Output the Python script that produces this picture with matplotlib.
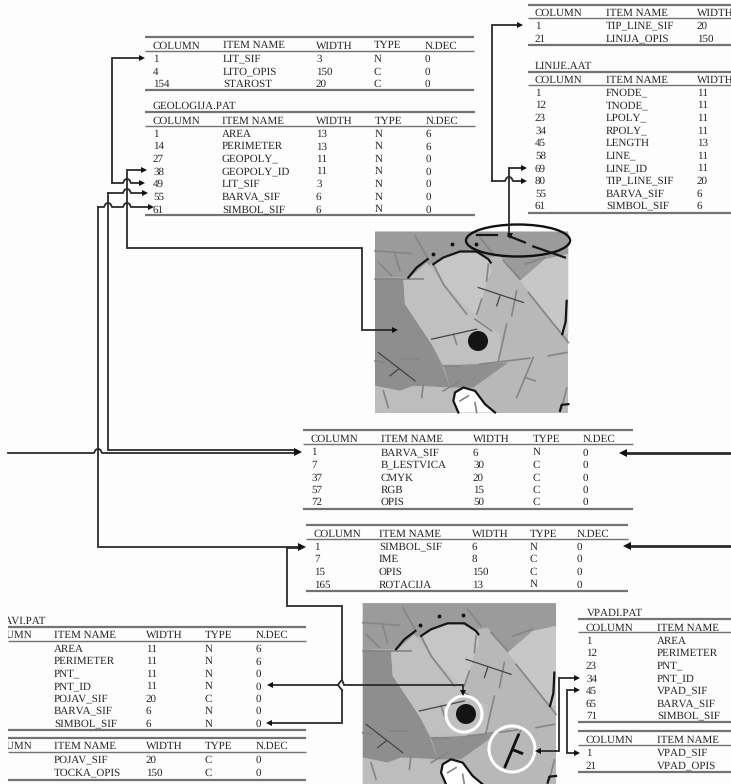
import matplotlib
matplotlib.use("Agg")
import matplotlib.pyplot as plt
from matplotlib.patches import Polygon, Circle, Ellipse, Rectangle

W, H = 731, 784
HEAD5 = ["COLUMN", "ITEM NAME", "WIDTH", "TYPE", "N.DEC"]

LITO_ROWS = [["1", "LIT_SIF", "3", "N", "0"], ["4", "LITO_OPIS", "150", "C", "0"], ["154", "STAROST", "20", "C", "0"]]
GEO_ROWS = [["1", "AREA", "13", "N", "6"], ["14", "PERIMETER", "13", "N", "6"], ["27", "GEOPOLY_", "11", "N", "0"],
            ["38", "GEOPOLY_ID", "11", "N", "0"], ["49", "LIT_SIF", "3", "N", "0"], ["55", "BARVA_SIF", "6", "N", "0"],
            ["61", "SIMBOL_SIF", "6", "N", "0"]]
TIP_ROWS = [["1", "TIP_LINE_SIF", "20"], ["21", "LINIJA_OPIS", "150"]]
LIN_ROWS = [["1", "FNODE_", "11"], ["12", "TNODE_", "11"], ["23", "LPOLY_", "11"], ["34", "RPOLY_", "11"],
            ["45", "LENGTH", "13"], ["58", "LINE_", "11"], ["69", "LINE_ID", "11"], ["80", "TIP_LINE_SIF", "20"],
            ["55", "BARVA_SIF", "6"], ["61", "SIMBOL_SIF", "6"]]
BARVA_ROWS = [["1", "BARVA_SIF", "6", "N", "0"], ["7", "B_LESTVICA", "30", "C", "0"], ["37", "CMYK", "20", "C", "0"],
              ["57", "RGB", "15", "C", "0"], ["72", "OPIS", "50", "C", "0"]]
SIMBOL_ROWS = [["1", "SIMBOL_SIF", "6", "N", "0"], ["7", "IME", "8", "C", "0"], ["15", "OPIS", "150", "C", "0"],
               ["165", "ROTACIJA", "13", "N", "0"]]
POJ_ROWS = [["", "AREA", "11", "N", "6"], ["", "PERIMETER", "11", "N", "6"], ["", "PNT_", "11", "N", "0"],
            ["", "PNT_ID", "11", "N", "0"], ["", "POJAV_SIF", "20", "C", "0"], ["", "BARVA_SIF", "6", "N", "0"],
            ["", "SIMBOL_SIF", "6", "N", "0"]]
TOCKA_ROWS = [["", "POJAV_SIF", "20", "C", "0"], ["", "TOCKA_OPIS", "150", "C", "0"]]
VPAD_ROWS = [["1", "AREA"], ["12", "PERIMETER"], ["23", "PNT_"], ["34", "PNT_ID"], ["45", "VPAD_SIF"],
             ["65", "BARVA_SIF"], ["71", "SIMBOL_SIF"]]
VPAD2_ROWS = [["1", "VPAD_SIF"], ["21", "VPAD_OPIS"]]

plt.rcParams["font.family"] = ["Liberation Serif", "DejaVu Serif"]
plt.rcParams["text.hinting"] = "no_hinting"
plt.rcParams["text.hinting_factor"] = 1
fig = plt.figure(figsize=(W / 100, H / 100), dpi=100, facecolor="#fdfdfd")
ax = fig.add_axes([0, 0, 1, 1])
ax.set_xlim(0, W)
ax.set_ylim(H, 0)
ax.axis("off")

TXT = "#262626"
RULE = "#737373"
LINE = "#2b2b2b"
FS = 8.1
BASE_OFF = 3.9


def label(x, y, s):
    ax.text(x, y + BASE_OFF, s, fontsize=FS, color=TXT, va="baseline", ha="left", zorder=3)


def table(cols, x0, x1, top, head_y, rule_y, row_ys, bottom, rows, headers=HEAD5, title=None, title_y=None, title_x=None):
    for y, lw in ((top, 1.6), (rule_y, 1.0), (bottom, 1.6)):
        ax.plot([x0, x1], [y, y], color=RULE, lw=lw, solid_capstyle="butt", zorder=2)
    if title:
        label(title_x, title_y, title)
    for x, h in zip(cols, headers):
        label(x, head_y, h)
    for y, r in zip(row_ys, rows):
        for x, v in zip(cols, r):
            label(x, y, v)


table([153, 223, 316, 374, 425], 145, 474, 37, 44.5, 51, [58, 71, 83], 90, LITO_ROWS)
table([153, 222, 316, 375, 426], 145, 475, 112, 120, 126, [133, 145.5, 158, 170.5, 183, 196, 208.5], 215, GEO_ROWS,
      title="GEOLOGIJA.PAT", title_y=105, title_x=153)
table([535, 606, 697], 528, 731, 4.5, 12, 17.5, [25, 38], 45, TIP_ROWS, headers=["COLUMN", "ITEM NAME", "WIDTH"])
table([535, 606, 697], 528, 731, 71.5, 79, 85, [92, 104.5, 117, 130, 142, 155, 167.5, 180, 193, 205], 213, LIN_ROWS,
      headers=["COLUMN", "ITEM NAME", "WIDTH"], title="LINIJE.AAT", title_y=65, title_x=535)
table([311, 381, 473, 533, 583], 303, 633, 430, 438, 444, [451.5, 464, 476.5, 488.5, 501], 509, BARVA_ROWS)
table([314, 379, 472, 530, 577], 306, 628, 525, 533, 538.5, [546, 558, 571, 583.5], 591, SIMBOL_ROWS)
table([-15, 54, 146, 205, 256], 8, 306, 626.5, 634, 640.5, [648, 660.5, 673, 685.5, 698, 710, 723], 730, POJ_ROWS,
      title="POJAVI.PAT", title_y=619.5, title_x=-13)
table([-15, 54, 146, 205, 256], 8, 306, 738, 745, 752, [759, 772], 780, TOCKA_ROWS)
table([586, 657], 578, 731, 619, 627, 632, [640, 652, 665, 678, 690, 703, 715], 722, VPAD_ROWS,
      headers=["COLUMN", "ITEM NAME"], title="VPADI.PAT", title_y=612, title_x=587)
table([586, 657], 578, 731, 731, 739, 745, [752, 765], 772, VPAD2_ROWS, headers=["COLUMN", "ITEM NAME"])
ax.add_patch(Rectangle((0, 600), 8, 184, fc="#fdfdfd", ec="none", zorder=4))

# map regions, in map coordinates (3 units per pixel)
MAP_W, MAP_H = 580, 543
BASE = "#b8b8b8"
REGIONS = [
    ("#9b9b9b", [(0, 0), (580, 0), (580, 68), (510, 83), (435, 148), (375, 73), (345, 78), (285, 58), (225, 68), (175, 93), (105, 138), (0, 138)]),
    ("#8e8e8e", [(0, 138), (85, 143), (90, 218), (170, 338), (200, 398), (225, 468), (115, 463), (75, 478), (0, 463)]),
    ("#c6c6c6", [(175, 98), (225, 68), (285, 58), (340, 83), (350, 118), (335, 153), (305, 258), (215, 168)]),
    ("#c0c0c0", [(105, 138), (155, 93), (215, 168), (305, 258), (375, 308), (375, 393), (205, 398), (170, 338), (90, 218), (85, 143)]),
    ("#c7c7c7", [(435, 148), (510, 83), (580, 68), (580, 308), (565, 308)]),
    ("#8f8f8f", [(205, 403), (400, 393), (295, 468), (225, 468)]),
    ("#bdbdbd", [(0, 463), (75, 478), (115, 463), (225, 468), (235, 488), (255, 543), (0, 543)]),
]
BLOB = [(240, 483), (265, 468), (300, 478), (330, 518), (360, 543), (250, 543), (235, 508)]
GREY_LINES = [
    [(120, 13), (160, 83)], [(175, 98), (205, 158), (240, 203), (275, 248)], [(300, 263), (350, 298)],
    [(340, 98), (335, 148)], [(320, 203), (305, 248)], [(425, 178), (410, 253)],
    [(395, 278), (370, 388)], [(235, 308), (245, 338)], [(460, 183), (580, 333)], [(520, 373), (575, 363)],
    [(475, 378), (425, 498)], [(450, 438), (480, 448)], [(75, 383), (130, 383)], [(0, 388), (30, 393)],
    [(315, 398), (465, 380)], [(205, 403), (255, 403)], [(25, 478), (40, 528)], [(145, 458), (140, 498)],
    [(205, 478), (255, 448)], [(255, 508), (280, 493)], [(300, 513), (305, 543)], [(0, 58), (110, 66)],
    [(60, 68), (75, 118)], [(10, 93), (50, 133)], [(0, 143), (145, 143)], [(385, 88), (435, 143)],
    [(450, 98), (510, 78)], [(315, 18), (355, 68)], [(575, 470), (560, 530)],
]
DARK_THIN = [
    [(310, 168), (445, 213)], [(375, 193), (365, 223)], [(170, 323), (305, 293)], [(10, 363), (120, 448)], [(70, 413), (45, 433)],
]
BLACK_ARC = [
    [(100, 138), (125, 108), (158, 83)], [(175, 98), (205, 78), (255, 60), (305, 60), (340, 83), (347, 93)],
    [(575, 208), (572, 270), (562, 308)], [(555, 538), (560, 520), (580, 518)],
    [(250, 543), (235, 508), (240, 483), (265, 468), (300, 478), (330, 518), (360, 543)],
]
DOTS = [(173, 66), (230, 38), (302, 36)]


def draw_map(x0, y0, top_black, extra):
    def tr(pts):
        return [(x0 + px / 3, y0 + py / 3) for px, py in pts]
    ax.add_patch(Rectangle((x0, y0), MAP_W / 3, MAP_H / 3, fc=BASE, ec="none", zorder=1))
    for c, pts in REGIONS:
        ax.add_patch(Polygon(tr(pts), fc=c, ec="none", zorder=1.1))
    ax.add_patch(Polygon(tr(BLOB), fc="white", ec="none", zorder=1.2))
    for seg in GREY_LINES:
        xs, ys = zip(*tr(seg))
        ax.plot(xs, ys, color="#858585", lw=1.2, zorder=1.3)
    for seg in DARK_THIN:
        xs, ys = zip(*tr(seg))
        ax.plot(xs, ys, color="#444444", lw=0.9, zorder=1.4)
    for seg in BLACK_ARC + top_black:
        xs, ys = zip(*tr(seg))
        ax.plot(xs, ys, color="#151515", lw=1.6, zorder=1.6)
    for seg in extra:
        xs, ys = zip(*tr(seg))
        ax.plot(xs, ys, color="#111111", lw=2.0, zorder=1.7)
    ax.plot(*zip(*tr(DOTS)), ls="none", marker="o", ms=1.8, color="#111111", zorder=1.7)


# first map
draw_map(375, 231.5, [[(305, 11), (365, 11)], [(400, 13), (450, 33)], [(475, 45), (570, 78)]], [])
ax.add_patch(Circle((478, 341), 10, fc="#141414", ec="none", zorder=1.8))
ax.add_patch(Ellipse((518, 240.5), 104, 32, fc="none", ec="#111111", lw=1.7, zorder=2))
# second map
draw_map(362.7, 603.3, [], [[(467, 395), (427, 490)], [(452, 440), (477, 450)]])
ax.add_patch(Circle((466, 714), 10, fc="#141414", ec="none", zorder=1.8))
ax.add_patch(Circle((464, 714), 18, fc="none", ec="white", lw=2.2, zorder=1.75))
ax.add_patch(Circle((512, 749), 23, fc="none", ec="white", lw=2.2, zorder=1.65))


def bump_h(x0, x1, y, humps):
    pts = [(x0, y)]
    for h in humps:
        pts += [(h - 4, y), (h - 2.5, y - 3), (h, y - 4.5), (h + 2.5, y - 3), (h + 4, y)]
    pts.append((x1, y))
    return pts


def wire(pts, lw=1.3):
    xs, ys = zip(*pts)
    ax.plot(xs, ys, color=LINE, lw=lw, solid_joinstyle="miter", zorder=2.5)


def arrow(x, y, mark=">", ms=4.5):
    ax.plot([x], [y], marker=mark, ms=ms, color="#111111", mew=0, ls="none", zorder=2.6)


# connectors around the GEOLOGIJA tables
wire([(139, 58), (112, 58), (112, 183)])
wire(bump_h(112, 142, 183, [127]))
arrow(142, 58); arrow(142, 183)
wire([(143, 170), (127, 170), (127, 248), (362, 248), (362, 330), (393, 330)])
arrow(144, 170); arrow(395, 330)
wire(bump_h(108, 143, 193, [127]))
wire([(108, 193), (108, 450), (296, 450)])
arrow(145, 193)
wire(bump_h(8, 296, 453, [98]))
arrow(298, 451.5, ms=6)
wire(bump_h(98, 150, 207, [108, 127]))
wire([(98, 207), (98, 546.5), (300, 546.5)])
arrow(151, 207); arrow(302, 547, ms=6)

# right-hand connectors
wire([(731, 452.5), (626, 452.5)], lw=2.0)
arrow(623, 453, "<", 6)
wire([(731, 546), (630, 546)], lw=2.0)
arrow(627, 546, "<", 6)

# second map connectors
wire([(301, 548), (287, 548), (287, 606), (342, 606), (342, 680)])
wire([(342, 690), (342, 723), (272, 723)])
arrow(269, 723, "<")
wire([(273, 685), (338, 685), (340, 682), (342, 680), (344, 685), (463, 685), (463, 692)])
wire([(342, 690), (339.5, 687), (338, 685)])
arrow(270, 685, "<")
arrow(463, 693, "v")
wire([(541, 751), (559, 751), (559, 678), (575, 678)])
arrow(538, 751, "<"); arrow(577, 678)
wire([(575, 690), (567, 690), (567, 753), (574, 753)])
arrow(577, 690); arrow(577, 753)

# top right connectors
wire([(518, 25), (492, 25), (492, 181)])
wire(bump_h(492, 522, 181, [509]))
arrow(520, 25); arrow(524, 181)
wire([(522, 168), (509, 168), (509, 235)])
arrow(524, 168); arrow(509.5, 236, "v")

fig.savefig("out.png", dpi=100, facecolor=fig.get_facecolor())
